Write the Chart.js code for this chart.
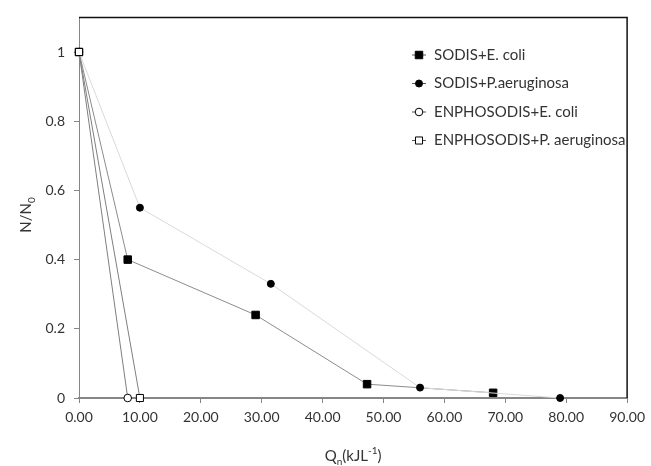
<!DOCTYPE html>
<html>
<head>
<meta charset="utf-8">
<script src="https://cdn.jsdelivr.net/npm/chart.js@4.4.0/dist/chart.umd.min.js"></script>
<style>
  html, body { margin: 0; padding: 0; background: #fff; }
  #wrap { width: 651px; height: 466px; }
</style>
</head>
<body>
<div id="wrap"><canvas id="chart"></canvas></div>
<script>
// Data
const seriesNames = ["SODIS+E. coli", "SODIS+P.aeruginosa", "ENPHOSODIS+E. coli", "ENPHOSODIS+P. aeruginosa"];
const sodisEcoliX = [0, 8, 29, 47.3, 68];
const sodisEcoliY = [1, 0.4, 0.24, 0.04, 0.015];
const sodisPaerX = [0, 10, 31.5, 56, 79];
const sodisPaerY = [1, 0.55, 0.33, 0.03, 0];
const enphoEcoliX = [0, 8];
const enphoEcoliY = [1, 0];
const enphoPaerX = [0, 10];
const enphoPaerY = [1, 0];
const xTicks = [0, 10, 20, 30, 40, 50, 60, 70, 80, 90];
const yTicks = [0, 0.2, 0.4, 0.6, 0.8, 1];
const yTickLabels = ["0", "0.2", "0.4", "0.6", "0.8", "1"];

const FONT = "Lato";
const TEXT = "#333";
const AXIS = "#868686";

function pts(xs, ys) {
  return xs.map((x, i) => ({ x: x, y: ys[i] }));
}

// Frame (top + right) and axis titles with sub/superscripts
const decorPlugin = {
  id: "decor",
  afterDraw(chart) {
    const { ctx, chartArea: a } = chart;
    ctx.save();
    ctx.strokeStyle = "#111";
    ctx.lineWidth = 1.5;
    ctx.beginPath();
    ctx.moveTo(a.left, a.top);
    ctx.lineTo(a.right, a.top);
    ctx.lineTo(a.right, a.bottom);
    ctx.stroke();

    ctx.fillStyle = TEXT;
    ctx.textBaseline = "alphabetic";
    ctx.textAlign = "left";

    // x title: Qn(kJL-1)
    const big = "15px " + FONT, small = "10px " + FONT;
    const parts = [
      { t: "Q", f: big, dy: 0 },
      { t: "n", f: small, dy: 4 },
      { t: "(kJL", f: big, dy: 0 },
      { t: "-1", f: small, dy: -7 },
      { t: ")", f: big, dy: 0 }
    ];
    let w = 0;
    parts.forEach(p => { ctx.font = p.f; w += ctx.measureText(p.t).width; });
    let x = (a.left + a.right) / 2 - w / 2;
    const base = 461;
    parts.forEach(p => {
      ctx.font = p.f;
      ctx.fillText(p.t, x, base + p.dy);
      x += ctx.measureText(p.t).width;
    });

    // y title: N/N0 rotated
    ctx.translate(31, 215);
    ctx.rotate(-Math.PI / 2);
    const yparts = [
      { t: "N/N", f: big, dy: 0 },
      { t: "0", f: small, dy: 4 }
    ];
    w = 0;
    yparts.forEach(p => { ctx.font = p.f; w += ctx.measureText(p.t).width; });
    x = -w / 2;
    yparts.forEach(p => {
      ctx.font = p.f;
      ctx.fillText(p.t, x, p.dy);
      x += ctx.measureText(p.t).width;
    });
    ctx.restore();
  }
};

// Legend inside plot, line + marker + label
const legendPlugin = {
  id: "insideLegend",
  afterDraw(chart) {
    const { ctx } = chart;
    const rowY = [55, 83.5, 112, 140.5];
    const mx = 419;
    ctx.save();
    chart.data.datasets.forEach((ds, i) => {
      const y = rowY[i];
      ctx.strokeStyle = "#555";
      ctx.lineWidth = 1;
      ctx.beginPath();
      ctx.moveTo(mx - 7, y);
      ctx.lineTo(mx + 7, y);
      ctx.stroke();
      ctx.fillStyle = ds.pointBackgroundColor;
      ctx.strokeStyle = ds.pointBorderColor;
      ctx.lineWidth = ds.pointBorderWidth;
      Chart.helpers.drawPoint(ctx, {
        pointStyle: ds.pointStyle,
        radius: ds.pointRadius,
        rotation: 0,
        borderWidth: ds.pointBorderWidth
      }, mx, y);
      ctx.fillStyle = TEXT;
      ctx.font = "15px " + FONT;
      ctx.textBaseline = "middle";
      ctx.textAlign = "left";
      ctx.fillText(ds.label, 434, y);
    });
    ctx.restore();
  }
};

new Chart(document.getElementById("chart"), {
  type: "scatter",
  data: {
    datasets: [
      {
        label: seriesNames[0],
        data: pts(sodisEcoliX, sodisEcoliY),
        showLine: true,
        borderColor: "#8c8c8c",
        borderWidth: 1,
        pointStyle: "rect",
        pointRadius: 5.3,
        pointBackgroundColor: "#000",
        pointBorderColor: "#000",
        pointBorderWidth: 1,
        clip: false,
        order: 4
      },
      {
        label: seriesNames[1],
        data: pts(sodisPaerX, sodisPaerY),
        showLine: true,
        borderColor: "#d9d9d9",
        borderWidth: 1,
        pointStyle: "circle",
        pointRadius: 3.5,
        pointBackgroundColor: "#000",
        pointBorderColor: "#000",
        pointBorderWidth: 1,
        clip: false,
        order: 3
      },
      {
        label: seriesNames[2],
        data: pts(enphoEcoliX, enphoEcoliY),
        showLine: true,
        borderColor: "#7f7f7f",
        borderWidth: 1,
        pointStyle: "circle",
        pointRadius: 3.8,
        pointBackgroundColor: "#fff",
        pointBorderColor: "#000",
        pointBorderWidth: 1,
        clip: false,
        order: 2
      },
      {
        label: seriesNames[3],
        data: pts(enphoPaerX, enphoPaerY),
        showLine: true,
        borderColor: "#7f7f7f",
        borderWidth: 1,
        pointStyle: "rect",
        pointRadius: 5,
        pointBackgroundColor: "#fff",
        pointBorderColor: "#000",
        pointBorderWidth: 1,
        clip: false,
        order: 1
      }
    ]
  },
  options: {
    responsive: true,
    maintainAspectRatio: false,
    animation: false,
    layout: { padding: { left: 0, top: 14, right: 21, bottom: 0 } },
    plugins: {
      legend: { display: false },
      tooltip: { enabled: false }
    },
    scales: {
      x: {
        type: "linear",
        min: 0,
        max: 90,
        afterBuildTicks: function (scale) {
          scale.ticks = xTicks.map(v => ({ value: v }));
        },
        afterFit: function (scale) {
          scale.height = 68;
        },
        ticks: {
          color: TEXT,
          font: { family: FONT, size: 14 },
          padding: 6,
          maxRotation: 0,
          callback: function (value) {
            return value.toFixed(2);
          }
        },
        grid: {
          drawOnChartArea: false,
          drawTicks: true,
          tickLength: 5,
          color: AXIS
        },
        border: { display: true, color: AXIS, width: 2 }
      },
      y: {
        type: "linear",
        min: 0,
        max: 1.1,
        afterBuildTicks: function (scale) {
          scale.ticks = yTicks.map(v => ({ value: v }));
        },
        afterFit: function (scale) {
          scale.width = 79;
        },
        ticks: {
          color: TEXT,
          font: { family: FONT, size: 14 },
          padding: 9,
          callback: function (value, index) {
            return yTickLabels[index];
          }
        },
        grid: {
          drawOnChartArea: false,
          drawTicks: true,
          tickLength: 5,
          color: AXIS
        },
        border: { display: true, color: AXIS, width: 1 }
      }
    }
  },
  plugins: [decorPlugin, legendPlugin]
});
</script>
</body>
</html>
